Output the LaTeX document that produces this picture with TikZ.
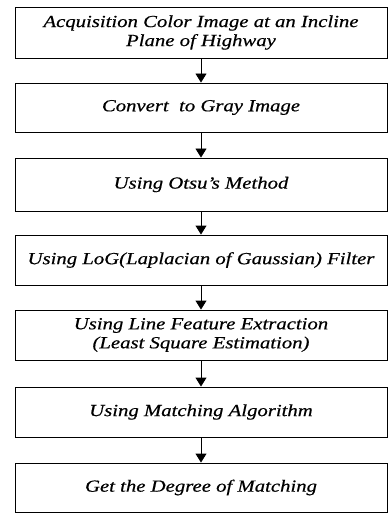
\documentclass[tikz,border=0pt]{standalone}
\usepackage{fontspec}
\setmainfont{Liberation Serif}
\usetikzlibrary{arrows.meta}
\tikzset{
  stepbox/.style={draw=black, line width=0.9pt, minimum width=372pt, inner sep=0pt,
    align=center, font=\fontsize{17}{19}\selectfont\itshape\addfontfeature{FakeStretch=1.22,FakeBold=0.5}},
  flow/.style={draw=black, line width=0.9pt, -{Triangle[width=11pt,length=9pt]}}
}
\begin{document}
\begin{tikzpicture}[x=1pt,y=-1pt]
\useasboundingbox (0,0) rectangle (390,513);
\node[stepbox, minimum height=51pt] (b1) at (201,32.5) {Acquisition Color Image at an Incline\\Plane of Highway};
\node[stepbox, minimum height=49pt] (b2) at (201,107.5) {Convert\ \ to Gray Image};
\node[stepbox, minimum height=53pt] (b3) at (201,184.5) {Using Otsu's Method};
\node[stepbox, minimum height=50pt] (b4) at (201,260) {Using LoG(Laplacian of Gaussian) Filter};
\node[stepbox, minimum height=50pt] (b5) at (201,335) {Using Line Feature Extraction\\(Least Square Estimation)};
\node[stepbox, minimum height=50pt] (b6) at (201,412) {Using Matching Algorithm};
\node[stepbox, minimum height=49pt] (b7) at (201,487.5) {Get the Degree of Matching};
\draw[flow] (b1.south) -- (b2.north);
\draw[flow] (b2.south) -- (b3.north);
\draw[flow] (b3.south) -- (b4.north);
\draw[flow] (b4.south) -- (b5.north);
\draw[flow] (b5.south) -- (b6.north);
\draw[flow] (b6.south) -- (b7.north);
\end{tikzpicture}
\end{document}
